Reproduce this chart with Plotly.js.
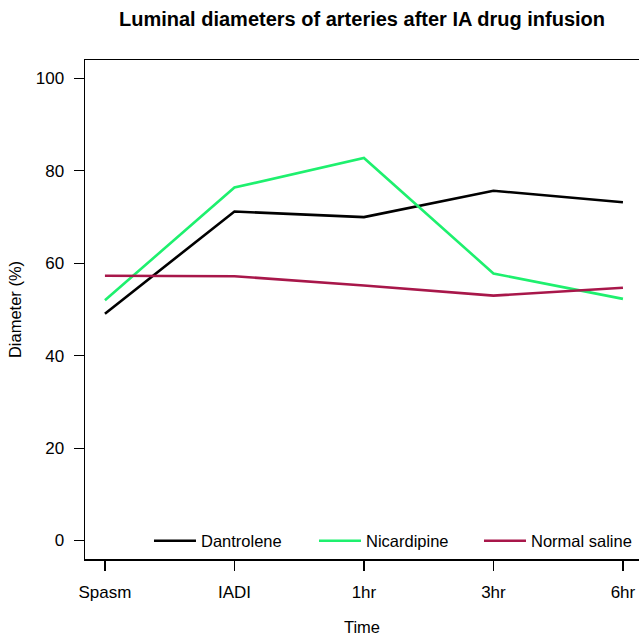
<!DOCTYPE html>
<html>
<head>
<meta charset="utf-8">
<script src="https://cdn.plot.ly/plotly-3.0.1.min.js"></script>
<style>
html, body { margin: 0; padding: 0; overflow: hidden; background: #fff; }
#chart { width: 639px; height: 636px; }
</style>
</head>
<body>
<div id="chart"></div>
<script>
var timeLabels = ["Spasm", "IADI", "1hr", "3hr", "6hr"];
var timeIndex = [1, 2, 3, 4, 5];
var dantrolene = [49.1, 71.2, 70.0, 75.7, 73.2];
var nicardipine = [52.0, 76.4, 82.8, 57.8, 52.3];
var normalSaline = [57.3, 57.2, 55.2, 53.0, 54.7];
var yTicks = [0, 20, 40, 60, 80, 100];

var seriesNames = ["Dantrolene", "Nicardipine", "Normal saline"];
var seriesValues = [dantrolene, nicardipine, normalSaline];
var seriesColors = ["#000000", "#1EF06E", "#A8174A"];

var traces = seriesValues.map(function (vals, i) {
  return {
    x: timeIndex,
    y: vals,
    type: "scatter",
    mode: "lines",
    name: seriesNames[i],
    line: { color: seriesColors[i], width: 2.6 },
    hoverinfo: "skip"
  };
});

var font = "Liberation Sans, Arial, sans-serif";

var layout = {
  width: 639,
  height: 636,
  margin: { l: 85, r: 0, t: 60, b: 77, autoexpand: false },
  paper_bgcolor: "#ffffff",
  plot_bgcolor: "#ffffff",
  showlegend: true,
  title: {
    text: "<b>Luminal diameters of arteries after IA drug infusion</b>",
    font: { family: font, size: 20, color: "#000" },
    x: 0.5, xref: "paper", xanchor: "center",
    y: 0.970, yref: "container", yanchor: "middle"
  },
  xaxis: {
    range: [0.846, 5.124],
    tickvals: timeIndex,
    ticktext: timeLabels,
    showgrid: false,
    zeroline: false,
    showline: true,
    mirror: true,
    linecolor: "#000",
    linewidth: 1.5,
    ticks: "outside",
    ticklen: 10,
    tickwidth: 1.2,
    tickcolor: "#000",
    ticklabelstandoff: 7,
    tickfont: { family: font, size: 17, color: "#000" },
    title: { text: "Time", font: { family: font, size: 16.5, color: "#000" }, standoff: 30 }
  },
  yaxis: {
    range: [-4, 104],
    tickvals: yTicks,
    showgrid: false,
    zeroline: false,
    showline: true,
    mirror: false,
    linecolor: "#000",
    linewidth: 1.5,
    ticks: "outside",
    ticklen: 10,
    tickwidth: 1.2,
    tickcolor: "#000",
    ticklabelstandoff: 6,
    tickfont: { family: font, size: 17, color: "#000" },
    title: { text: "Diameter (%)", font: { family: font, size: 16.5, color: "#000" }, standoff: 10 }
  },
  legend: {
    orientation: "h",
    x: 0.1155, xanchor: "left",
    y: 0.036, yanchor: "middle",
    bgcolor: "rgba(0,0,0,0)",
    borderwidth: 0,
    font: { family: font, size: 16.5, color: "#000" },
    itemwidth: 42,
    entrywidth: 108,
    tracegroupgap: 0
  }
};

Plotly.newPlot("chart", traces, layout, { displayModeBar: false, staticPlot: true });
</script>
</body>
</html>
